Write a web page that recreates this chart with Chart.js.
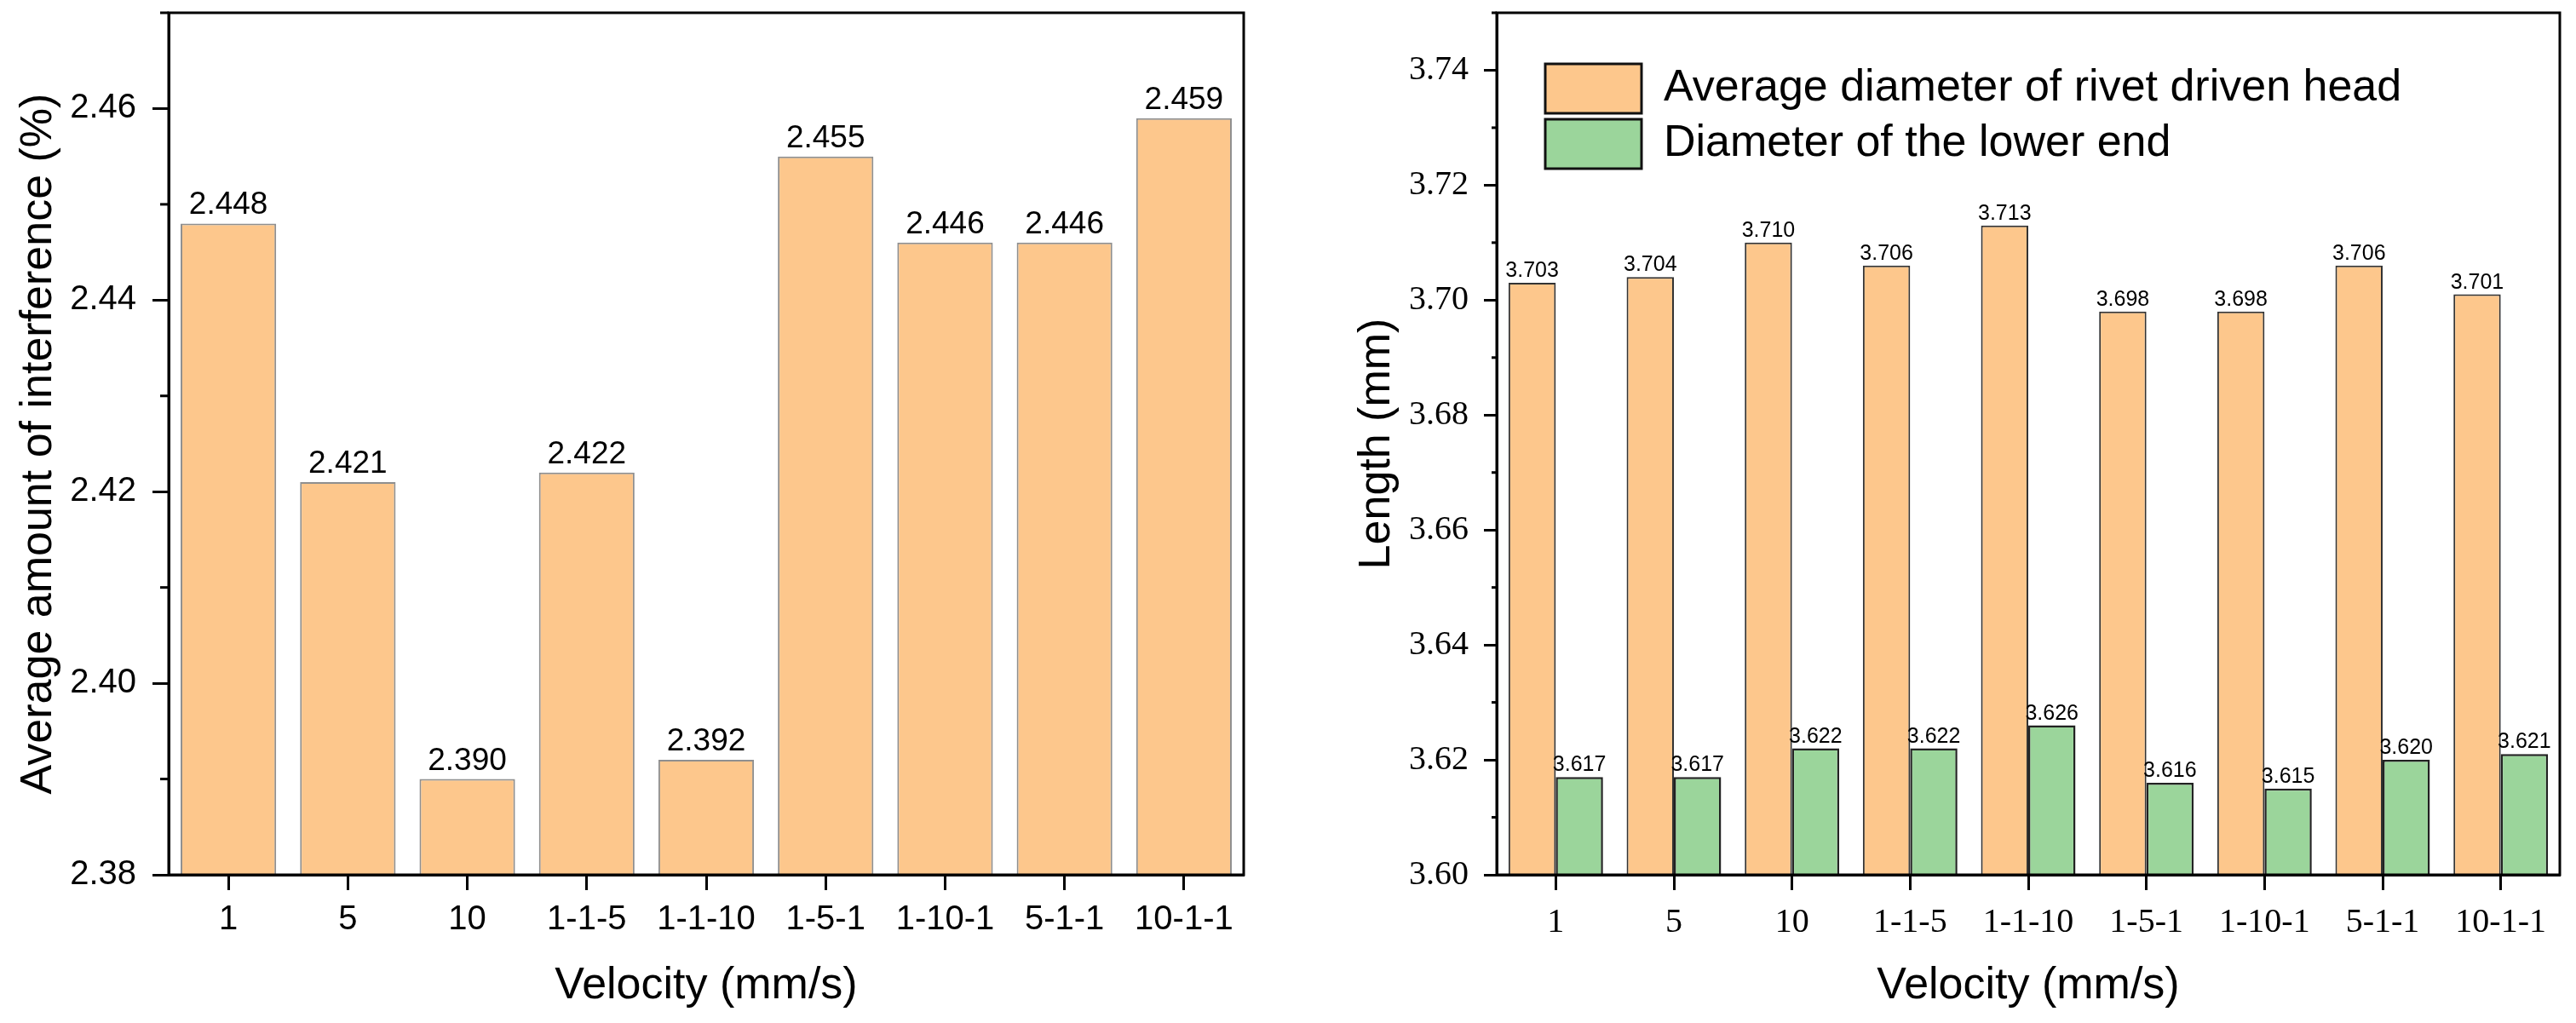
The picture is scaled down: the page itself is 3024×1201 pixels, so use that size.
<!DOCTYPE html>
<html lang="en">
<head>
<meta charset="UTF-8">
<title>Interference and rivet diameters vs velocity</title>
<script src="https://cdn.jsdelivr.net/npm/chart.js@4"></script>
<style>
    body { margin: 0; background: #fff; width: 3024px; height: 1201px; overflow: hidden; }
    .row { display: flex; }
    .panel { width: 1512px; height: 1201px; }
</style>
</head>
<body>
<div class="row">
    <div class="panel"><canvas id="leftChart" width="1512" height="1201"></canvas></div>
    <div class="panel"><canvas id="rightChart" width="1512" height="1201"></canvas></div>
</div>
<script>
// data
const velocities = ['1', '5', '10', '1-1-5', '1-1-10', '1-5-1', '1-10-1', '5-1-1', '10-1-1'];
const interference = [2.448, 2.421, 2.390, 2.422, 2.392, 2.455, 2.446, 2.446, 2.459];
const headDiameter = [3.703, 3.704, 3.710, 3.706, 3.713, 3.698, 3.698, 3.706, 3.701];
const lowerEndDiameter = [3.617, 3.617, 3.622, 3.622, 3.626, 3.616, 3.615, 3.620, 3.621];

const leftMajorTicks = [2.38, 2.40, 2.42, 2.44, 2.46];
const leftMinorTicks = [2.39, 2.41, 2.43, 2.45, 2.47];
const rightMajorTicks = [3.60, 3.62, 3.64, 3.66, 3.68, 3.70, 3.72, 3.74];
const rightMinorTicks = [3.61, 3.63, 3.65, 3.67, 3.69, 3.71, 3.73, 3.75];

const sans = '"Liberation Sans", Arial, sans-serif';
const serif = '"Liberation Serif", "Times New Roman", serif';
const orange = '#FDC78C';
const green = '#9BD59B';

// box around the plot area
const frame = {
    id: 'frame',
    afterDatasetsDraw(chart) {
        const { ctx, chartArea: a } = chart;
        ctx.save();
        ctx.strokeStyle = '#000';
        ctx.lineWidth = 3;
        ctx.strokeRect(a.left, a.top, a.right - a.left, a.bottom - a.top);
        ctx.restore();
    }
};

function minorTicks(values, len) {
    return {
        id: 'minorTicks',
        afterDraw(chart) {
            const y = chart.scales.y, ctx = chart.ctx;
            ctx.save();
            ctx.strokeStyle = '#000';
            ctx.lineWidth = 3;
            values.forEach(v => {
                const py = y.getPixelForValue(v);
                ctx.beginPath();
                ctx.moveTo(y.right - len, py);
                ctx.lineTo(y.right, py);
                ctx.stroke();
            });
            ctx.restore();
        }
    };
}

function valueLabels(font, gap) {
    return {
        id: 'valueLabels',
        afterDatasetsDraw(chart) {
            const ctx = chart.ctx;
            ctx.save();
            ctx.font = font;
            ctx.fillStyle = '#000';
            ctx.textAlign = 'center';
            ctx.textBaseline = 'alphabetic';
            chart.data.datasets.forEach((ds, i) => {
                chart.getDatasetMeta(i).data.forEach((bar, j) => {
                    ctx.fillText(ds.data[j].toFixed(3), bar.x, bar.y - gap);
                });
            });
            ctx.restore();
        }
    };
}

// move the legend a bit into the plot
const legendInside = {
    id: 'legendInside',
    beforeDraw(chart) {
        chart.legend.left = chart.chartArea.left + 50;
        chart.legend.top = chart.chartArea.top + 53;
    }
};

function xAxis(font, tickPad) {
    return {
        grid: { drawOnChartArea: false, offset: false, tickLength: 18, tickWidth: 3, tickColor: '#000' },
        border: { display: true, color: '#000', width: 3 },
        ticks: { color: '#000', font: font, padding: tickPad, autoSkip: false, maxRotation: 0 },
        title: { display: true, text: 'Velocity (mm/s)', color: '#000', font: { family: sans, size: 52 }, padding: { top: 0, bottom: 12 } },
        afterFit: s => { s.height = 174; s.paddingLeft = 0; s.paddingRight = 0; }
    };
}

function yAxis(min, max, majors, font, tickLen, tickPad, title, titlePad, width) {
    return {
        min: min,
        max: max,
        afterBuildTicks: s => { s.ticks = majors.map(v => ({ value: v })); },
        grid: { drawOnChartArea: false, tickLength: tickLen, tickWidth: 3, tickColor: '#000' },
        border: { display: true, color: '#000', width: 3 },
        ticks: { color: '#000', font: font, padding: tickPad, callback: v => v.toFixed(2) },
        title: { display: true, text: title, color: '#000', font: { family: sans, size: 52 }, padding: { top: titlePad, bottom: 0 } },
        afterFit: s => { s.width = width; s.paddingTop = 0; s.paddingBottom = 0; }
    };
}

new Chart(document.getElementById('leftChart'), {
    type: 'bar',
    data: {
        labels: velocities,
        datasets: [{
            label: 'Average amount of interference',
            data: interference,
            backgroundColor: orange,
            borderColor: '#8f8f8f',
            borderWidth: 2,
            categoryPercentage: 0.8,
            barPercentage: 1
        }]
    },
    options: {
        responsive: false,
        animation: false,
        devicePixelRatio: 1,
        layout: { padding: { left: 0, top: 15, right: 52, bottom: 0 } },
        plugins: { legend: { display: false }, tooltip: { enabled: false } },
        scales: {
            x: xAxis({ family: sans, size: 40 }, 11),
            y: yAxis(2.38, 2.47, leftMajorTicks, { family: sans, size: 40 }, 19, 19,
                'Average amount of interference (%)', 14, 198)
        }
    },
    plugins: [frame, minorTicks(leftMinorTicks, 10), valueLabels('37px ' + sans, 11)]
});

new Chart(document.getElementById('rightChart'), {
    type: 'bar',
    data: {
        labels: velocities,
        datasets: [{
            label: 'Average diameter of rivet driven head',
            data: headDiameter,
            backgroundColor: orange,
            borderColor: '#333',
            borderWidth: 2,
            categoryPercentage: 0.8,
            barPercentage: 1
        }, {
            label: 'Diameter of the lower end',
            data: lowerEndDiameter,
            backgroundColor: green,
            borderColor: '#222',
            borderWidth: 2.5,
            categoryPercentage: 0.8,
            barPercentage: 1
        }]
    },
    options: {
        responsive: false,
        animation: false,
        devicePixelRatio: 1,
        layout: { padding: { left: 0, top: 15, right: 19, bottom: 0 } },
        plugins: {
            tooltip: { enabled: false },
            legend: {
                position: 'chartArea',
                align: 'start',
                labels: {
                    boxWidth: 113,
                    boxHeight: 58,
                    padding: 7,
                    color: '#000',
                    font: { family: sans, size: 52 },
                    generateLabels: chart => Chart.defaults.plugins.legend.labels.generateLabels(chart)
                        .map(item => Object.assign(item, { lineWidth: 3, strokeStyle: '#111' }))
                }
            }
        },
        scales: {
            x: xAxis({ family: serif, size: 40 }, 14),
            y: yAxis(3.60, 3.75, rightMajorTicks, { family: serif, size: 40 }, 15, 18,
                'Length (mm)', 73, 245)
        }
    },
    plugins: [frame, legendInside, minorTicks(rightMinorTicks, 6), valueLabels('25px ' + sans, 7)]
});
</script>
</body>
</html>
